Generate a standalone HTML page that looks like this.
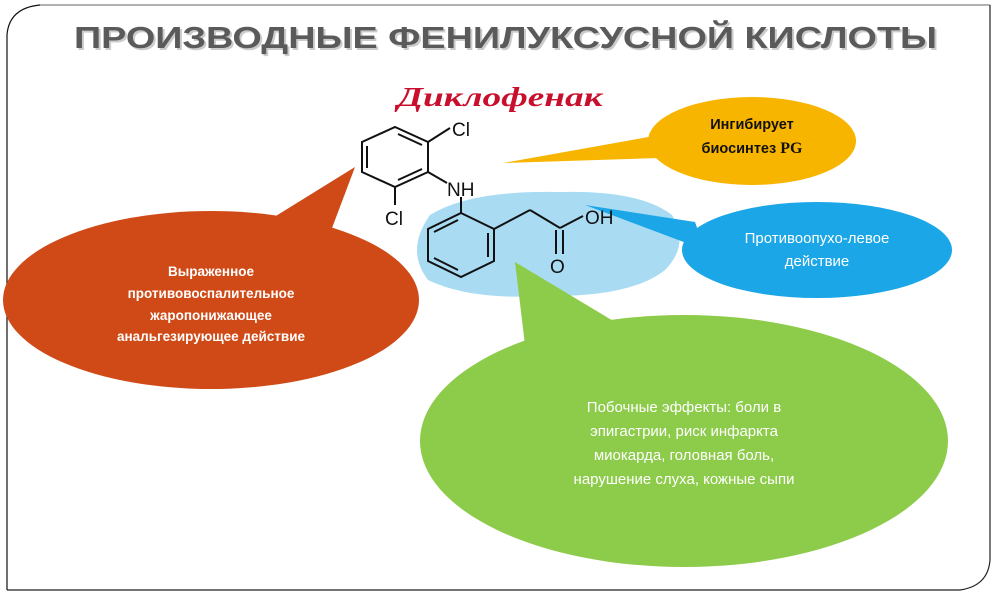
<!DOCTYPE html>
<html><head><meta charset="utf-8"><style>
html,body{margin:0;padding:0;background:#fff;}
svg{display:block;}
</style></head><body>
<svg width="1000" height="600" viewBox="0 0 1000 600" xmlns="http://www.w3.org/2000/svg">
<rect x="0" y="0" width="1000" height="600" fill="#fff"/>
<!-- frame -->
<path d="M40 5 L990 5" stroke="#999" stroke-width="1.5" fill="none"/>
<path d="M7 590 L7 35 Q9 8 40 5" stroke="#111" stroke-width="1.2" fill="none"/>
<path d="M7 590 L960 590 Q988 586 990 560 L990 5" stroke="#222" stroke-width="1.2" fill="none"/>
<!-- title -->
<text x="74" y="48" font-family="Liberation Sans, sans-serif" font-weight="bold" font-size="31" fill="#999" textLength="863" lengthAdjust="spacingAndGlyphs" opacity="0.5" transform="translate(2,2)">ПРОИЗВОДНЫЕ ФЕНИЛУКСУСНОЙ КИСЛОТЫ</text>
<text x="74" y="48" font-family="Liberation Sans, sans-serif" font-weight="bold" font-size="31" fill="#5a5a5a" textLength="863" lengthAdjust="spacingAndGlyphs">ПРОИЗВОДНЫЕ ФЕНИЛУКСУСНОЙ КИСЛОТЫ</text>
<!-- Diclofenac -->
<text x="500" y="106" text-anchor="middle" font-family="Liberation Serif, serif" font-style="italic" font-weight="bold" font-size="27" fill="#c8102e" textLength="205" lengthAdjust="spacingAndGlyphs">Диклофенак</text>
<!-- light blue blob -->
<path d="M430 215 Q470 190 560 192 Q640 190 672 215 Q690 245 665 270 Q630 298 540 296 Q470 300 428 280 Q405 250 430 215 Z" fill="#a9dcf3"/>
<!-- red bubble -->
<ellipse cx="211" cy="300" rx="208" ry="89" fill="#cf4a17"/>
<polygon points="355,167 250,232 326,244" fill="#cf4a17"/>
<!-- orange bubble -->
<ellipse cx="752" cy="141" rx="104" ry="44" fill="#f7b500"/>
<polygon points="503,163 665,134 660,158" fill="#f7b500"/>
<!-- blue bubble -->
<ellipse cx="817" cy="250" rx="135" ry="48" fill="#1ba6e8"/>
<polygon points="585,205 695,222 705,250" fill="#1ba6e8"/>
<!-- green bubble -->
<ellipse cx="684" cy="441" rx="264" ry="126" fill="#8dcb4a"/>
<polygon points="515,262 525,345 615,322" fill="#8dcb4a"/>
<!-- molecule -->
<g stroke="#111" stroke-width="2" fill="none">
 <!-- ring 1 center (395,157) -->
 <polygon points="395,127 428,142 428,172 395,187 362,172 362,142"/>
 <line x1="367" y1="146" x2="367" y2="168"/>
 <line x1="398" y1="134" x2="422" y2="145"/>
 <line x1="398" y1="180" x2="422" y2="169"/>
 <line x1="428" y1="142" x2="450" y2="128"/>
 <line x1="428" y1="172" x2="447" y2="183"/>
 <line x1="395" y1="187" x2="395" y2="205"/>
 <!-- ring 2 center (461,245) -->
 <polygon points="461,213 494,229 494,261 461,277 428,261 428,229"/>
 <line x1="434" y1="232" x2="458" y2="220"/>
 <line x1="434" y1="258" x2="458" y2="270"/>
 <line x1="488" y1="233" x2="488" y2="257"/>
 <line x1="461" y1="213" x2="461" y2="197"/>
 <line x1="494" y1="229" x2="530" y2="210"/>
 <line x1="530" y1="210" x2="560" y2="228"/>
 <line x1="560" y1="228" x2="583" y2="216"/>
 <line x1="556" y1="230" x2="556" y2="254"/>
 <line x1="563" y1="230" x2="563" y2="254"/>
</g>
<g font-family="Liberation Sans, sans-serif" font-size="19" fill="#111">
 <text x="452" y="136">Cl</text>
 <text x="447" y="196">NH</text>
 <text x="385" y="225">Cl</text>
 <text x="585" y="224">OH</text>
 <text x="550" y="273">O</text>
</g>
<!-- bubble texts -->
<g font-family="Liberation Sans, sans-serif" font-weight="bold" font-size="13.5" fill="#fff" text-anchor="middle">
 <text x="211" y="276">Выраженное</text>
 <text x="211" y="298">противовоспалительное</text>
 <text x="211" y="320">жаропонижающее</text>
 <text x="211" y="341">анальгезирующее действие</text>
</g>
<g font-family="Liberation Sans, sans-serif" font-weight="bold" font-size="14.5" fill="#111" text-anchor="middle">
 <text x="752" y="129">Ингибирует</text>
 <text x="752" y="153">биосинтез <tspan font-family="Liberation Serif, serif" font-size="16">PG</tspan></text>
</g>
<g font-family="Liberation Sans, sans-serif" font-size="15" fill="#fff" text-anchor="middle">
 <text x="817" y="243">Противоопухо-левое</text>
 <text x="817" y="266">действие</text>
</g>
<g font-family="Liberation Sans, sans-serif" font-size="15" fill="#fff" text-anchor="middle">
 <text x="684" y="412">Побочные эффекты: боли в</text>
 <text x="684" y="436">эпигастрии, риск инфаркта</text>
 <text x="684" y="460">миокарда, головная боль,</text>
 <text x="684" y="484">нарушение слуха, кожные сыпи</text>
</g>
</svg>
</body></html>
